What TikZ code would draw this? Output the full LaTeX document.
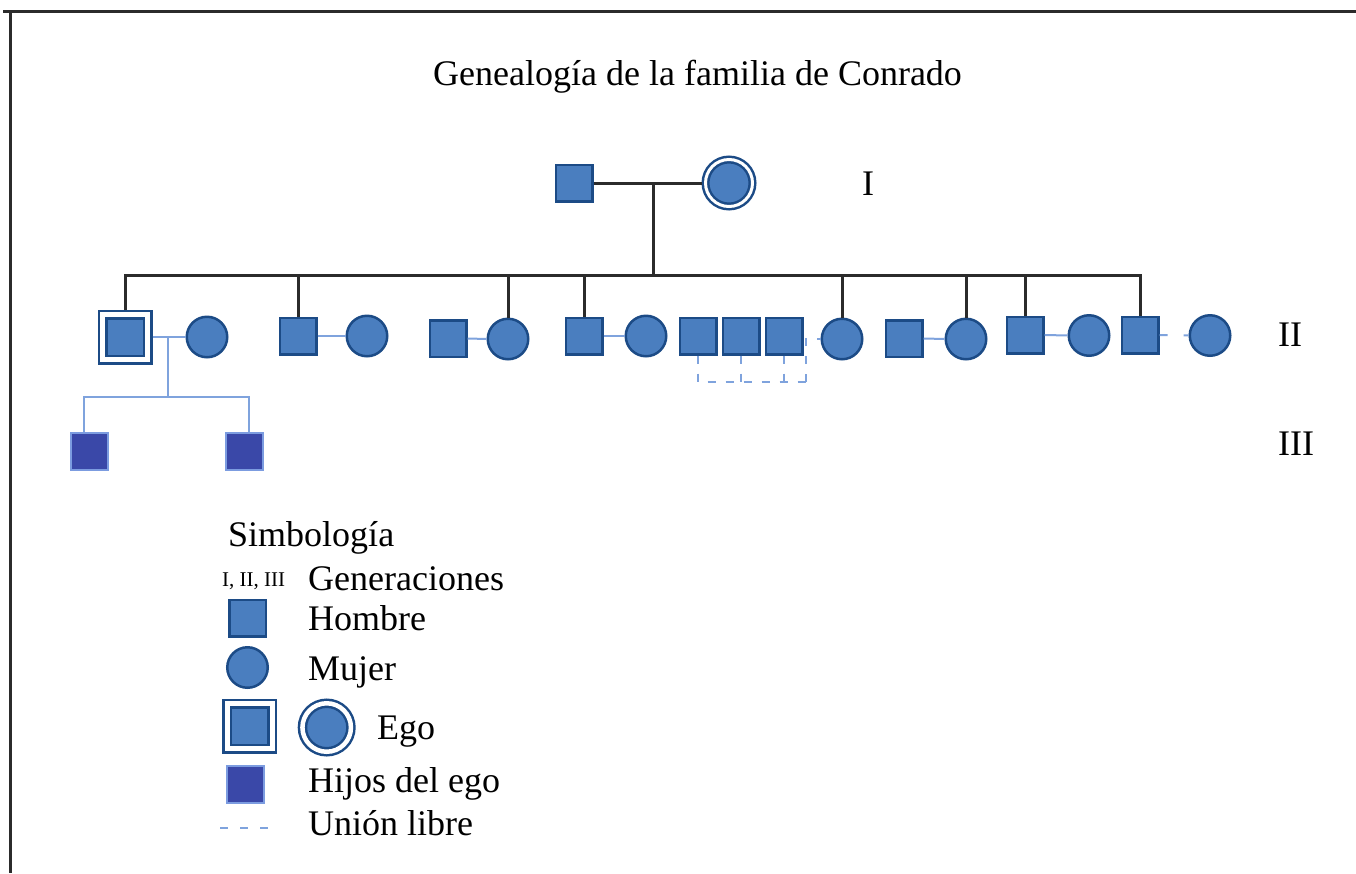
\documentclass[tikz,border=0pt]{standalone}
\usepackage{fontspec}
\setmainfont{Liberation Serif}
\definecolor{fil}{HTML}{4A7EBF}
\definecolor{bdr}{HTML}{1C4B86}
\definecolor{uni}{HTML}{7FA3DD}
\definecolor{kidf}{HTML}{3A48A8}
\definecolor{kidb}{HTML}{7C9CE0}
\definecolor{blk}{HTML}{2B2B2B}
\begin{document}
\begin{tikzpicture}[x=1pt,y=-1pt,
  font=\fontsize{36}{40}\selectfont,
  man/.style={rectangle, draw=bdr, fill=fil, line width=2.5pt, minimum size=36.5pt, inner sep=0pt},
  woman/.style={circle, draw=bdr, fill=fil, line width=2.5pt, minimum size=40.5pt, inner sep=0pt},
  egoman/.style={man, double=white, double distance=5pt, minimum size=45pt, outer sep=5pt},
  egowoman/.style={woman, double=white, double distance=3pt, minimum size=47pt, outer sep=4pt},
  kid/.style={man, draw=kidb, fill=kidf, line width=2pt, minimum size=37pt},
  desc/.style={draw=blk, line width=3pt},
  ul/.style={draw=uni, line width=2pt},
  free/.style={ul, dash pattern=on 8pt off 12pt},
  lbl/.style={anchor=base west, inner sep=0pt},
  gen/.style={anchor=base, inner sep=0pt}]
\useasboundingbox (0,0) rectangle (1356,873);
% frame
\coordinate (f1) at (3,11);
\coordinate (f2) at (1356,11);
\coordinate (f3) at (10,11);
\coordinate (f4) at (10,873);
\draw[blk, line width=3pt] (f1) -- (f2);
\draw[blk, line width=3pt] (f3) -- (f4);
% title
\node[gen] (title) at (697.5,85) {Genealogía de la familia de Conrado};
% generation labels
\node[gen] (gI) at (868,195) {I};
\node[gen] (gII) at (1290,346) {II};
\node[gen] (gIII) at (1296,455) {III};
% generation I
\node[man] (f) at (574,183) {};
\node[egowoman] (m) at (729,183) {};
\coordinate (fm) at (653,183);
\coordinate (bar) at (653,275);
\draw[desc] (f) -- (m);
\draw[desc] (fm) -- (bar);
% generation II
\node[egoman] (ego) at (125,337) {};
\node[woman] (w1) at (207,337) {};
\node[man] (m2) at (298,336) {};
\node[woman] (w2) at (367,336) {};
\node[man] (m3) at (448,338.5) {};
\node[woman] (w3) at (508,339) {};
\node[man] (m4) at (584,336) {};
\node[woman] (w4) at (646,336) {};
\node[man] (a) at (698,336) {};
\node[man] (b) at (741,336) {};
\node[man] (c) at (784,336) {};
\node[woman] (w5) at (842,339) {};
\node[man] (m6) at (904,338.5) {};
\node[woman] (w6) at (966,339) {};
\node[man] (m7) at (1025,335) {};
\node[woman] (w7) at (1089,335.5) {};
\node[man] (m8) at (1140,335) {};
\node[woman] (w8) at (1210,335.5) {};
% descent lines from generation I
\foreach \n in {ego,m2,w3,m4,w5,w6,m7,m8}
  \draw[desc] (\n.north) |- (bar);
% unions
\draw[ul] (ego) -- (w1);
\draw[ul] (m2) -- (w2);
\draw[ul] (m3) -- (w3);
\draw[ul] (m4) -- (w4);
\draw[ul] (m6) -- (w6);
\draw[ul] (m7) -- (w7);
\draw[ul, dash pattern=on 8pt off 16pt] (m8) -- (w8);
% free unions of w5
\coordinate (lb) at (806,382);
\draw[ul, dash pattern=on 8pt off 10pt] (a.south) -- (a.south |- lb) -- (lb);
\draw[ul, dash pattern=on 8pt off 10pt] (b.south) -- (b.south |- lb);
\draw[ul, dash pattern=on 8pt off 10pt] (c.south) -- (c.south |- lb);
\draw[ul, dash pattern=on 8pt off 10pt] (lb) |- (w5.west);
% generation III
\node[kid] (k1) at (89,451) {};
\node[kid] (k2) at (244,451) {};
\coordinate (eu) at (168,337);
\coordinate (kb) at (168,397);
\draw[ul] (eu) -- (kb);
\draw[ul] ([xshift=-5pt]k1.north) |- (kb);
\draw[ul] ([xshift=5pt]k2.north) |- (kb);
% legend
\node[lbl] (ls) at (228,546) {Simbología};
\node[lbl, font=\fontsize{21}{24}\selectfont] (lg) at (222,586) {I, II, III};
\node[lbl] (lgt) at (308,590) {Generaciones};
\node[man] (lh) at (247.5,618) {};
\node[lbl] (lht) at (308,630) {Hombre};
\node[woman] (lm) at (247.5,667.5) {};
\node[lbl] (lmt) at (308,680) {Mujer};
\node[egoman] (le1) at (249.5,726) {};
\node[egowoman, double distance=4.5pt, minimum size=48.5pt] (le2) at (326.7,727.5) {};
\node[lbl] (let) at (377,739) {Ego};
\node[kid] (lk) at (245.5,784) {};
\node[lbl] (lkt) at (308,792) {Hijos del ego};
\coordinate (lu1) at (220,828);
\coordinate (lu2) at (272,828);
\draw[free] (lu1) -- (lu2);
\node[lbl] (lut) at (308,835.5) {Unión libre};
\end{tikzpicture}
\end{document}
